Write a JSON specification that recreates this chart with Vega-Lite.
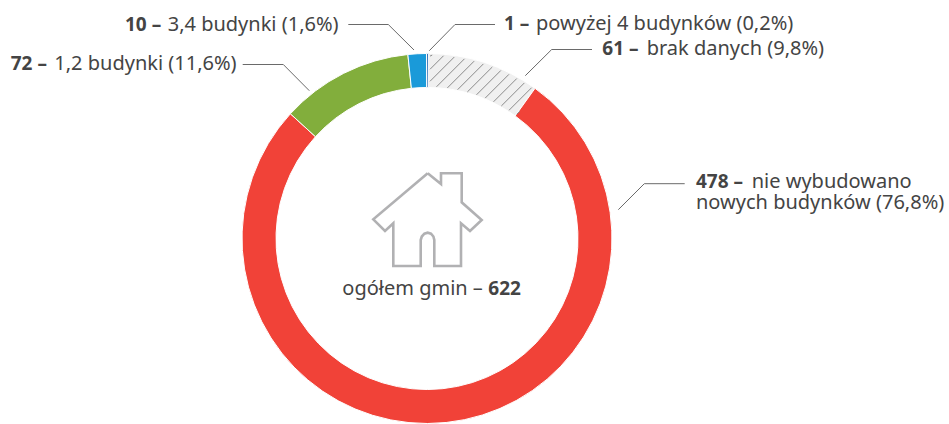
{"$schema":"https://vega.github.io/schema/vega-lite/v6.json","width":949,"height":424,"padding":0,"autosize":{"type":"none"},"background":"white","view":{"stroke":null},
"datasets":{
"segments":[{"category":"brak danych","count":61,"rank":1},{"category":"nie wybudowano nowych budynków","count":478,"rank":2},{"category":"1,2 budynki","count":72,"rank":3},{"category":"3,4 budynki","count":10,"rank":4},{"category":"powyżej 4 budynków","count":1,"rank":5}],
"hatch":[{"x1":430,"y1":56.1,"x2":432.2,"y2":55.1},{"x1":430,"y1":69.3,"x2":443.55,"y2":55.75},{"x1":430,"y1":81.3,"x2":454.25,"y2":57.05},{"x1":436.5,"y1":86.8,"x2":464.45,"y2":58.85},{"x1":447.4,"y1":87.9,"x2":474.15,"y2":61.15},{"x1":457.65,"y1":89.65,"x2":483.4,"y2":63.9},{"x1":467.35,"y1":91.95,"x2":492.3,"y2":67},{"x1":476.5,"y1":94.8,"x2":500.8,"y2":70.5},{"x1":485.2,"y1":98.1,"x2":508.95,"y2":74.35},{"x1":493.5,"y1":101.8,"x2":516.8,"y2":78.5},{"x1":501.35,"y1":105.95,"x2":524.35,"y2":82.95},{"x1":508.85,"y1":110.45,"x2":531.6,"y2":87.7},{"x1":516.7,"y1":114.3,"x2":520,"y2":111}],
"leaders":[{"id":"a","seq":1,"x":348.3,"y":24.5},{"id":"a","seq":2,"x":388.3,"y":24.5},{"id":"a","seq":3,"x":414,"y":50},{"id":"b","seq":1,"x":495,"y":24.5},{"id":"b","seq":2,"x":455,"y":24.5},{"id":"b","seq":3,"x":429.3,"y":50.7},{"id":"c","seq":1,"x":592,"y":49.5},{"id":"c","seq":2,"x":551.7,"y":49.5},{"id":"c","seq":3,"x":525.3,"y":75.7},{"id":"d","seq":1,"x":242.7,"y":64.5},{"id":"d","seq":2,"x":283.3,"y":64.5},{"id":"d","seq":3,"x":309.3,"y":90.7},{"id":"e","seq":1,"x":684.7,"y":183.7},{"id":"e","seq":2,"x":644.3,"y":183.7},{"id":"e","seq":3,"x":618.3,"y":209.7}],
"house":[{"seq":1,"x":427.7,"y":173.3},{"seq":2,"x":441,"y":184},{"seq":3,"x":441,"y":173.3},{"seq":4,"x":461.7,"y":173.3},{"seq":5,"x":461.7,"y":202.3},{"seq":6,"x":481.7,"y":220},{"seq":7,"x":470,"y":231},{"seq":8,"x":461,"y":223.3},{"seq":9,"x":461,"y":266},{"seq":10,"x":434.3,"y":266},{"seq":11,"x":434.3,"y":240},{"seq":12,"x":433.4,"y":236.5},{"seq":13,"x":431,"y":233.7},{"seq":14,"x":427.7,"y":232.7},{"seq":15,"x":424.4,"y":233.7},{"seq":16,"x":421.8,"y":236.5},{"seq":17,"x":420.7,"y":240},{"seq":18,"x":420.7,"y":266},{"seq":19,"x":393.3,"y":266},{"seq":20,"x":393.3,"y":223.3},{"seq":21,"x":385,"y":231},{"seq":22,"x":373.3,"y":219.3},{"seq":23,"x":427.7,"y":173.3}],
"regular":[{"text":"3,4 budynki (1,6%)","x":167.7,"y":31},{"text":"1,2 budynki (11,6%)","x":54.3,"y":70},{"text":"powyżej 4 budynków (0,2%)","x":536,"y":30},{"text":"brak danych (9,8%)","x":646.7,"y":55},{"text":"nie wybudowano","x":751.7,"y":187.7},{"text":"nowych budynków (76,8%)","x":696,"y":209},{"text":"ogółem gmin –","x":342.3,"y":295}],
"bold":[{"text":"10 –","x":125,"y":31},{"text":"72 –","x":10.7,"y":70},{"text":"1 –","x":504,"y":30},{"text":"61 –","x":602.3,"y":55},{"text":"478 –","x":696,"y":187.7},{"text":"622","x":488.3,"y":295}]
},
"layer":[
{"data":{"name":"segments"},"mark":{"type":"arc","innerRadius":151,"outerRadius":185,"stroke":"white","strokeWidth":1},
"encoding":{"x":{"datum":427,"type":"quantitative","scale":{"domain":[0,949],"nice":false,"zero":false},"axis":null},"y":{"datum":238.5,"type":"quantitative","scale":{"domain":[424,0],"nice":false,"zero":false},"axis":null},
"theta":{"field":"count","type":"quantitative","stack":true,"scale":{"range":[0.0075,6.2907]}},"order":{"field":"rank","type":"ordinal"},
"color":{"field":"category","type":"nominal","legend":null,"scale":{"domain":["brak danych","nie wybudowano nowych budynków","1,2 budynki","3,4 budynki","powyżej 4 budynków"],"range":["#f0f0f0","#f14238","#82ae3c","#1a9ad9","#1a5ea8"]}}}},
{"data":{"name":"hatch"},"mark":{"type":"rule","color":"#8a8a8a","strokeWidth":1},"encoding":{"x":{"field":"x1","type":"quantitative","scale":{"domain":[0,949],"nice":false,"zero":false},"axis":null},"y":{"field":"y1","type":"quantitative","scale":{"domain":[424,0],"nice":false,"zero":false},"axis":null},"x2":{"field":"x2"},"y2":{"field":"y2"}}},
{"data":{"name":"leaders"},"mark":{"type":"line","color":"#6a6a6a","strokeWidth":1},"encoding":{"x":{"field":"x","type":"quantitative","scale":{"domain":[0,949],"nice":false,"zero":false},"axis":null},"y":{"field":"y","type":"quantitative","scale":{"domain":[424,0],"nice":false,"zero":false},"axis":null},"detail":{"field":"id"},"order":{"field":"seq","type":"quantitative"}}},
{"data":{"name":"house"},"mark":{"type":"line","color":"#b1b1b3","strokeWidth":2.6,"strokeJoin":"miter"},"encoding":{"x":{"field":"x","type":"quantitative","scale":{"domain":[0,949],"nice":false,"zero":false},"axis":null},"y":{"field":"y","type":"quantitative","scale":{"domain":[424,0],"nice":false,"zero":false},"axis":null},"order":{"field":"seq","type":"quantitative"}}},
{"data":{"name":"regular"},"mark":{"type":"text","align":"left","baseline":"alphabetic","font":"Noto Sans","fontSize":20,"color":"#444444"},"encoding":{"x":{"field":"x","type":"quantitative","scale":{"domain":[0,949],"nice":false,"zero":false},"axis":null},"y":{"field":"y","type":"quantitative","scale":{"domain":[424,0],"nice":false,"zero":false},"axis":null},"text":{"field":"text"}}},
{"data":{"name":"bold"},"mark":{"type":"text","align":"left","baseline":"alphabetic","font":"Noto Sans","fontSize":19,"fontWeight":"bold","color":"#444444"},"encoding":{"x":{"field":"x","type":"quantitative","scale":{"domain":[0,949],"nice":false,"zero":false},"axis":null},"y":{"field":"y","type":"quantitative","scale":{"domain":[424,0],"nice":false,"zero":false},"axis":null},"text":{"field":"text"}}}
]}
